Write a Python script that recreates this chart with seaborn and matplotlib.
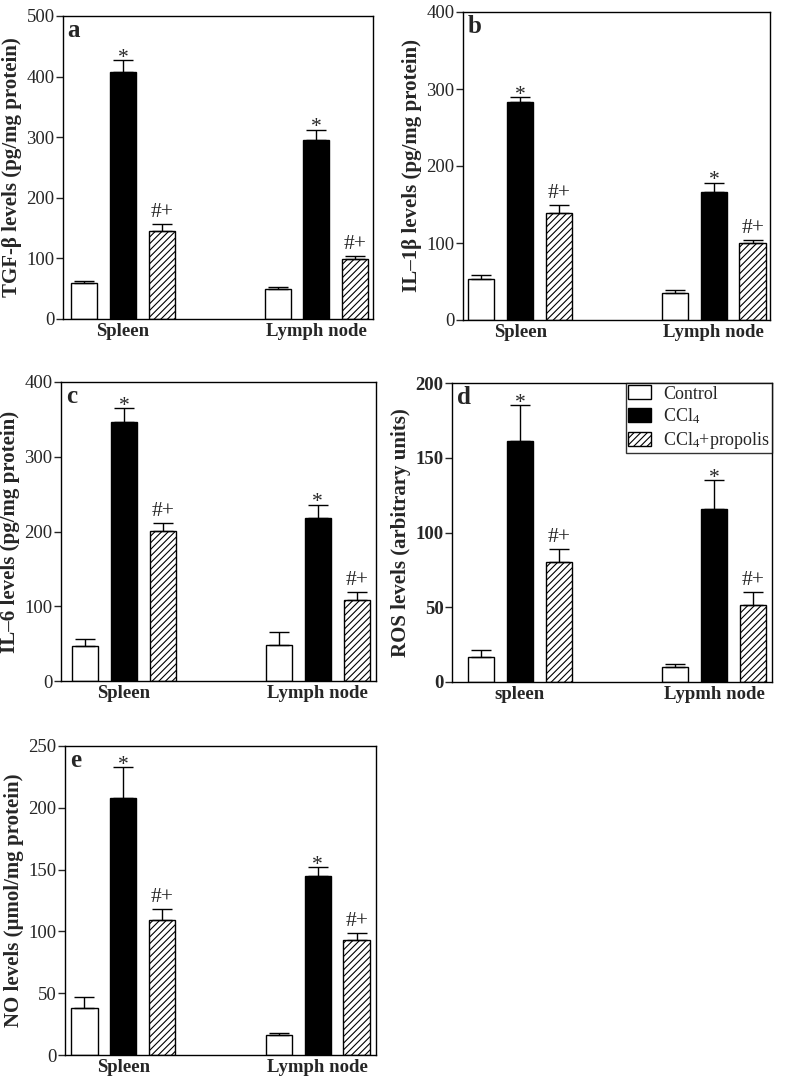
import numpy as np
import pandas as pd
import matplotlib
matplotlib.use("Agg")
import matplotlib.pyplot as plt
from matplotlib.patches import Patch
import seaborn as sns

# ---------------- data ----------------
groups = ["Control", "CCl4", "CCl4+propolis"]
legend_labels = ["Control", "CCl$_4$", "CCl$_4$+propolis"]
marks = ["", "*", "#+"]

tissues_std = ["Spleen", "Lymph node"]
tissues_ros = ["spleen", "Lypmh node"]

# panel a: TGF-beta
tgf_spleen = [59, 407, 145]
tgf_spleen_err = [4, 20, 12]
tgf_lymph = [49, 295, 98.5]
tgf_lymph_err = [4.5, 17, 5]

# panel b: IL-1beta
il1_spleen = [53, 283, 139]
il1_spleen_err = [5, 6.5, 11]
il1_lymph = [35, 166, 100]
il1_lymph_err = [3.5, 12, 4]

# panel c: IL-6
il6_spleen = [47, 347, 201]
il6_spleen_err = [9, 18, 10]
il6_lymph = [48, 218, 109]
il6_lymph_err = [17, 18, 10]

# panel d: ROS
ros_spleen = [17, 161, 80]
ros_spleen_err = [4.4, 24, 9]
ros_lymph = [10, 116, 51.5]
ros_lymph_err = [2.3, 19, 8.5]

# panel e: NO
no_spleen = [38, 208, 109.5]
no_spleen_err = [9, 25, 8.5]
no_lymph = [16, 145, 93]
no_lymph_err = [1.5, 7, 6]

ylabels = ["TGF-β levels (pg/mg protein)",
           "IL–1β levels (pg/mg protein)",
           "IL–6 levels (pg/mg protein)",
           "ROS levels (arbitrary units)",
           "NO levels (µmol/mg protein)"]
ymax = [500, 400, 400, 200, 250]
ystep = [100, 100, 100, 50, 50]
letters = ["a", "b", "c", "d", "e"]

# ---------------- style ----------------
sns.set_theme(style="ticks")
plt.rcParams["font.family"] = ["Liberation Serif", "DejaVu Serif"]
plt.rcParams["mathtext.fontset"] = "custom"
plt.rcParams["mathtext.rm"] = "Liberation Serif"
plt.rcParams["mathtext.it"] = "Liberation Serif:italic"
plt.rcParams["mathtext.bf"] = "Liberation Serif:bold"
plt.rcParams["hatch.linewidth"] = 0.8
plt.rcParams["axes.linewidth"] = 1.0

W, H = 787, 1091
fig = plt.figure(figsize=(W / 100, H / 100), dpi=100)

# axes boxes in pixels: left, top, right, bottom
boxes = [(63, 16, 373, 319),
         (463, 12, 770, 320),
         (61, 382, 376, 681),
         (452, 383, 772, 682),
         (65, 746, 376, 1055)]
xlims = [(-0.311, 1.293), (-0.295, 1.29), (-0.324, 1.30), (-0.35, 1.298), (-0.30, 1.30)]

panels = [
    (tgf_spleen, tgf_spleen_err, tgf_lymph, tgf_lymph_err, tissues_std),
    (il1_spleen, il1_spleen_err, il1_lymph, il1_lymph_err, tissues_std),
    (il6_spleen, il6_spleen_err, il6_lymph, il6_lymph_err, tissues_std),
    (ros_spleen, ros_spleen_err, ros_lymph, ros_lymph_err, tissues_ros),
    (no_spleen, no_spleen_err, no_lymph, no_lymph_err, tissues_std),
]

palette = {"Control": "white", "CCl4": "black", "CCl4+propolis": "white"}

for i, (sp, sp_e, ly, ly_e, tis) in enumerate(panels):
    l, t, r, b = boxes[i]
    ax = fig.add_axes([l / W, 1 - b / H, (r - l) / W, (b - t) / H])
    df = pd.DataFrame({
        "tissue": [tis[0]] * 3 + [tis[1]] * 3,
        "group": groups + groups,
        "value": sp + ly,
        "err": sp_e + ly_e,
        "mark": marks + marks,
    })
    sns.barplot(data=df, x="tissue", y="value", hue="group", order=tis,
                hue_order=groups, palette=palette, edgecolor="black",
                linewidth=1.0, width=0.6, gap=0.325, errorbar=None,
                legend=False, ax=ax)
    bar_containers = list(ax.containers)
    for gi, cont in enumerate(bar_containers):
        for ti, bar in enumerate(cont):
            row = df[(df["tissue"] == tis[ti]) & (df["group"] == groups[gi])].iloc[0]
            xc = bar.get_x() + bar.get_width() / 2
            h = bar.get_height()
            if gi == 2:
                bar.set_hatch("/////")
            ax.errorbar([xc], [h], yerr=[[0], [row["err"]]], fmt="none",
                        ecolor="black", elinewidth=1.0, capsize=7,
                        capthick=1.0, zorder=1)
            if row["mark"]:
                off = -1.8 if row["mark"] == "*" else 5
                ax.annotate(row["mark"], (xc, h + row["err"]),
                            xytext=(0, off), textcoords="offset points",
                            ha="center", va="baseline", fontsize=15.5)
    ax.set_xlim(*xlims[i])
    ax.set_ylim(0, ymax[i])
    ax.set_yticks(np.arange(0, ymax[i] + 1, ystep[i]))
    ax.tick_params(axis="y", direction="out", length=5, width=1, pad=1,
                   labelsize=13.5)
    ax.tick_params(axis="x", length=0, pad=3)
    for lab in ax.get_xticklabels():
        lab.set_fontweight("bold")
        lab.set_fontsize(13.5)
    if i == 3:
        for lab in ax.get_yticklabels():
            lab.set_fontweight("bold")
    ax.set_xlabel("")
    ax.set_ylabel(ylabels[i], fontsize=15, fontweight="bold", labelpad=3)
    for s in ax.spines.values():
        s.set_visible(True)
        s.set_linewidth(1.0)
        s.set_color("black")
    ax.text(0.015, 0.99, letters[i], transform=ax.transAxes, ha="left",
            va="top", fontsize=18, fontweight="bold")
    if i == 3:
        handles = [Patch(facecolor=palette[g], edgecolor="black", linewidth=1.0,
                         hatch=("/////" if k == 2 else None))
                   for k, g in enumerate(groups)]
        leg = ax.legend(handles, legend_labels, loc="upper right",
                        frameon=True, fancybox=False, borderaxespad=0,
                        fontsize=13, handlelength=1.28, handleheight=0.83,
                        handletextpad=0.67, labelspacing=0.22,
                        borderpad=0.12)
        leg.get_frame().set_edgecolor("black")
        leg.get_frame().set_linewidth(1.0)

fig.savefig("out.png", dpi=100)
